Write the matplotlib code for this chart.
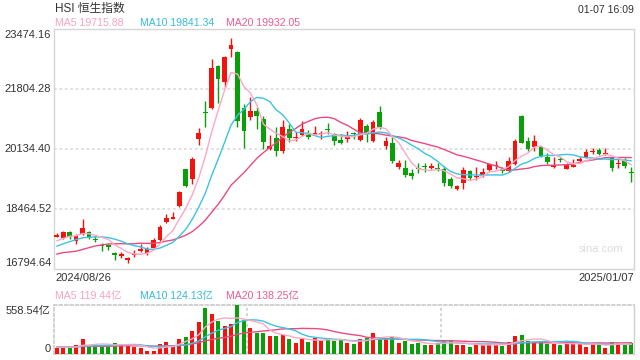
import matplotlib
matplotlib.use('Agg')
import matplotlib.pyplot as plt
import numpy as np

plt.rcParams['font.family'] = ['Liberation Sans', 'Noto Sans CJK SC', 'DejaVu Sans']

# ---------------- data ----------------
title = "HSI 恒生指数"
stamp = "01-07 16:09"
first_date = "2024/08/26"
last_date = "2025/01/07"
price_ticks = [23474.16, 21804.28, 20134.40, 18464.52, 16794.64]
ma_labels = ["MA5 19715.88", "MA10 19841.34", "MA20 19932.05"]
vol_ma_labels = ["MA5 119.44亿", "MA10 124.13亿", "MA20 138.25亿"]
vol_top_label = "558.54亿"

# closes before the first shown day (only used to warm up the moving averages)
prior_closes = [17005, 17344, 17304, 16945, 16698, 16647, 16877, 16891, 17090, 17111,
                17174, 17113, 17109, 17430, 17569, 17511, 17391, 17641, 17612]
prior_volumes = [85, 78, 92, 80, 75, 88, 95, 82, 70, 76, 84, 90, 79, 73, 86, 81, 77, 88, 83]

opens = [17694, 17649, 17833, 17583, 17769, 17833, 17630, 17444, 17435, 17240,
         17165, 17054, 17176, 17288, 17249, 17371, 17602, 18089, 18195, 18557,
         19569, 19291, 20421, 21145, 21283, 22444, 22008, 22926, 22826, 21267,
         21033, 21192, 20977, 20125, 20440, 20088, 20691, 20432, 20524, 20571,
         20552, 20544, 20672, 20544, 20385, 20421, 20571, 20385, 20774, 20366,
         21164, 20227, 20310, 19640, 19606, 19467, 19587, 19652, 19606, 19606,
         19578, 19291, 19013, 19180, 19522, 19346, 19419, 19550, 19653, 19550,
         19531, 19717, 21061, 20366, 20199, 20199, 19903, 19643, 19848, 19578,
         19643, 19809, 19903, 20042, 20107, 19996, 19903, 19717, 19828, 19475]
highs = [17797, 17852, 17852, 17769, 18186, 17861, 17713, 17510, 17499, 17277,
         17260, 17120, 17316, 17483, 17416, 17649, 18019, 18325, 18390, 18974,
         19575, 19920, 20710, 21470, 22631, 22472, 22723, 23215, 22870, 21387,
         21590, 21303, 21061, 20516, 20755, 20933, 20830, 20617, 20913, 20663,
         20774, 20644, 20867, 20589, 20544, 20635, 20617, 20989, 20830, 20941,
         21339, 20460, 20460, 19819, 19828, 19578, 19753, 19753, 19736, 19736,
         19661, 19346, 19133, 19634, 19550, 19634, 19615, 19753, 19800, 19643,
         19920, 20413, 21070, 20460, 20533, 20227, 20014, 19903, 19903, 19753,
         19856, 19920, 20125, 20171, 20162, 20153, 19920, 19848, 19884, 19643]
lows = [17677, 17630, 17638, 17482, 17750, 17621, 17555, 17304, 17316, 17045,
        17093, 16953, 17120, 17268, 17184, 17343, 17583, 18061, 18186, 18511,
        19068, 19160, 20246, 20755, 21256, 21423, 21824, 22704, 20738, 20171,
        20941, 20683, 20134, 20107, 19948, 20032, 20321, 20357, 20485, 20413,
        20533, 20404, 20544, 20246, 20273, 20329, 20421, 20366, 20338, 20329,
        20683, 20125, 19736, 19587, 19364, 19291, 19458, 19495, 19569, 19522,
        19113, 19049, 18993, 19030, 19272, 19272, 19355, 19522, 19578, 19458,
        19486, 19689, 20293, 20079, 20088, 19920, 19717, 19597, 19781, 19569,
        19625, 19736, 19892, 19987, 19968, 19968, 19522, 19597, 19597, 19225]
closes = [17741, 17833, 17694, 17713, 17936, 17694, 17610, 17427, 17416, 17193,
          17184, 17073, 17204, 17352, 17352, 17602, 17963, 18214, 18214, 18929,
          19113, 19848, 20571, 21128, 22380, 22091, 22686, 23029, 20922, 20644,
          21192, 21061, 20321, 20218, 20071, 20738, 20449, 20460, 20691, 20477,
          20571, 20561, 20655, 20357, 20310, 20488, 20544, 20941, 20571, 20886,
          20738, 20357, 19809, 19744, 19419, 19392, 19569, 19634, 19671, 19578,
          19197, 19105, 19105, 19550, 19336, 19383, 19495, 19709, 19671, 19531,
          19800, 20357, 20310, 20125, 20357, 19940, 19781, 19661, 19828, 19689,
          19661, 19828, 20042, 20060, 19996, 20014, 19597, 19736, 19661, 19458]
volumes = [72, 72, 72, 103, 171, 91, 114, 91, 91, 129,
           110, 103, 84, 72, 38, 38, 114, 137, 91, 175,
           198, 262, 369, 528, 456, 376, 323, 342, 558.54, 388,
           293, 243, 236, 205, 205, 217, 171, 129, 171, 140,
           186, 152, 167, 152, 167, 129, 114, 171, 186, 243,
           198, 167, 190, 129, 152, 114, 129, 103, 103, 122,
           152, 152, 103, 103, 84, 114, 103, 114, 103, 91,
           140, 205, 217, 152, 140, 140, 114, 114, 103, 129,
           122, 114, 80, 122, 122, 68, 140, 122, 103, 129]

# ---------------- styles ----------------
RED = '#f2140c'
GREEN = '#0a9f0a'
C_MA5 = '#fba8c6'
C_MA10 = '#3cc3e2'
C_MA20 = '#ea4a80'
T_MA5 = '#f7a2c2'
T_MA10 = '#34bbdf'
T_MA20 = '#ee5a89'
TXT = '#333333'
BORDER = '#d6d6d6'
GRID = '#dddddd'

W, H = 640, 360
fig = plt.figure(figsize=(6.4, 3.6), dpi=100)


def fx(px):
    return px / W


def fy(py):
    return 1 - py / H


L, R = 54, 634
ax = fig.add_axes([fx(L), fy(269), fx(R) - fx(L), fy(29) - fy(269)])
axv = fig.add_axes([fx(L), fy(354), fx(R) - fx(L), fy(305) - fy(354)])

n = len(closes)
x = np.arange(n)
o = np.array(opens, float)
h = np.array(highs, float)
lo = np.array(lows, float)
c = np.array(closes, float)
v = np.array(volumes, float)
up = c >= o
cols = [RED if u else GREEN for u in up]

ymin, ymax = price_ticks[-1], price_ticks[0]
ax.set_xlim(-0.42, n - 1 + 0.42)
ax.set_ylim(ymin, ymax)
px_price = (ymax - ymin) / 240.0

# wicks
ax.vlines(x, lo, h, colors=cols, linewidth=1.0, zorder=3)
# bodies
bottom = np.minimum(o, c)
height = np.maximum(np.abs(c - o), px_price * 1.2)
ax.bar(x, height, bottom=bottom, width=0.74, color=cols, linewidth=0, zorder=4)


def ma(series_prior, series, k):
    full = np.concatenate([np.array(series_prior, float), np.array(series, float)])
    out = np.convolve(full, np.ones(k) / k, mode='valid')
    return out[-len(series):]


for k, col in ((20, C_MA20), (10, C_MA10), (5, C_MA5)):
    ax.plot(x, ma(prior_closes, closes, k), color=col, linewidth=1.0, zorder=5,
            solid_capstyle='round')

for t in price_ticks[1:-1]:
    ax.axhline(t, color=GRID, linewidth=1.3, linestyle=(0, (1.5, 1.5)), zorder=1)

ax.set_xticks([])
ax.set_yticks([])
for s in ax.spines.values():
    s.set_color(BORDER)
    s.set_linewidth(1.0)

# volume panel
axv.set_xlim(-0.42, n - 1 + 0.42)
axv.set_ylim(0, max(volumes))
axv.bar(x, v, width=0.62, color=cols, linewidth=0, zorder=3)
for k, col in ((20, C_MA20), (10, C_MA10), (5, C_MA5)):
    axv.plot(x, ma(prior_volumes, volumes, k), color=col, linewidth=1.0, zorder=5)
axv.set_xticks([])
axv.set_yticks([])
for side in ('top', 'bottom', 'left'):
    axv.spines[side].set_color('#cfcfcf')
    axv.spines[side].set_linewidth(1.3)
    axv.spines[side].set_linestyle((0, (1.5, 1.5)))
axv.spines['right'].set_color('#cfcfcf')
axv.spines['right'].set_linewidth(1.0)
for frac in (1 / 3, 2 / 3):
    axv.axvline(-0.42 + frac * (n - 1 + 0.84), color='#cfcfcf', linewidth=1.3,
                linestyle=(0, (1.5, 1.5)), zorder=1)

# ---------------- text ----------------
FS = 8
fig.text(fx(55), fy(8.5), title, fontsize=8.5, color=TXT, ha='left', va='center')
fig.text(fx(634), fy(10), stamp, fontsize=7.6, color=TXT, ha='right', va='center')
for lab, px, col in zip(ma_labels, (55, 140.5, 225.5), (T_MA5, T_MA10, T_MA20)):
    fig.text(fx(px), fy(23.5), lab, fontsize=7.6, color=col, ha='left', va='center')

label_y = [35, 89, 149, 209, 263.5]
for t, py in zip(price_ticks, label_y):
    fig.text(fx(51), fy(py), f"{t:.2f}", fontsize=FS, color=TXT, ha='right', va='center')

fig.text(fx(55), fy(278), first_date, fontsize=FS, color=TXT, ha='left', va='center')
fig.text(fx(634), fy(278), last_date, fontsize=FS, color=TXT, ha='right', va='center')

for lab, px, col in zip(vol_ma_labels, (55, 140.5, 226), (T_MA5, T_MA10, T_MA20)):
    fig.text(fx(px), fy(295.5), lab, fontsize=7.6, color=col, ha='left', va='center')

fig.text(fx(50.5), fy(311), vol_top_label, fontsize=FS, color=TXT, ha='right', va='center')
fig.text(fx(50.5), fy(348.5), "0", fontsize=FS, color=TXT, ha='right', va='center')

fig.text(fx(623), fy(249), "sina.com", fontsize=8, color='#dcdcdc', ha='right', va='center')

fig.savefig('out.png', dpi=100)
